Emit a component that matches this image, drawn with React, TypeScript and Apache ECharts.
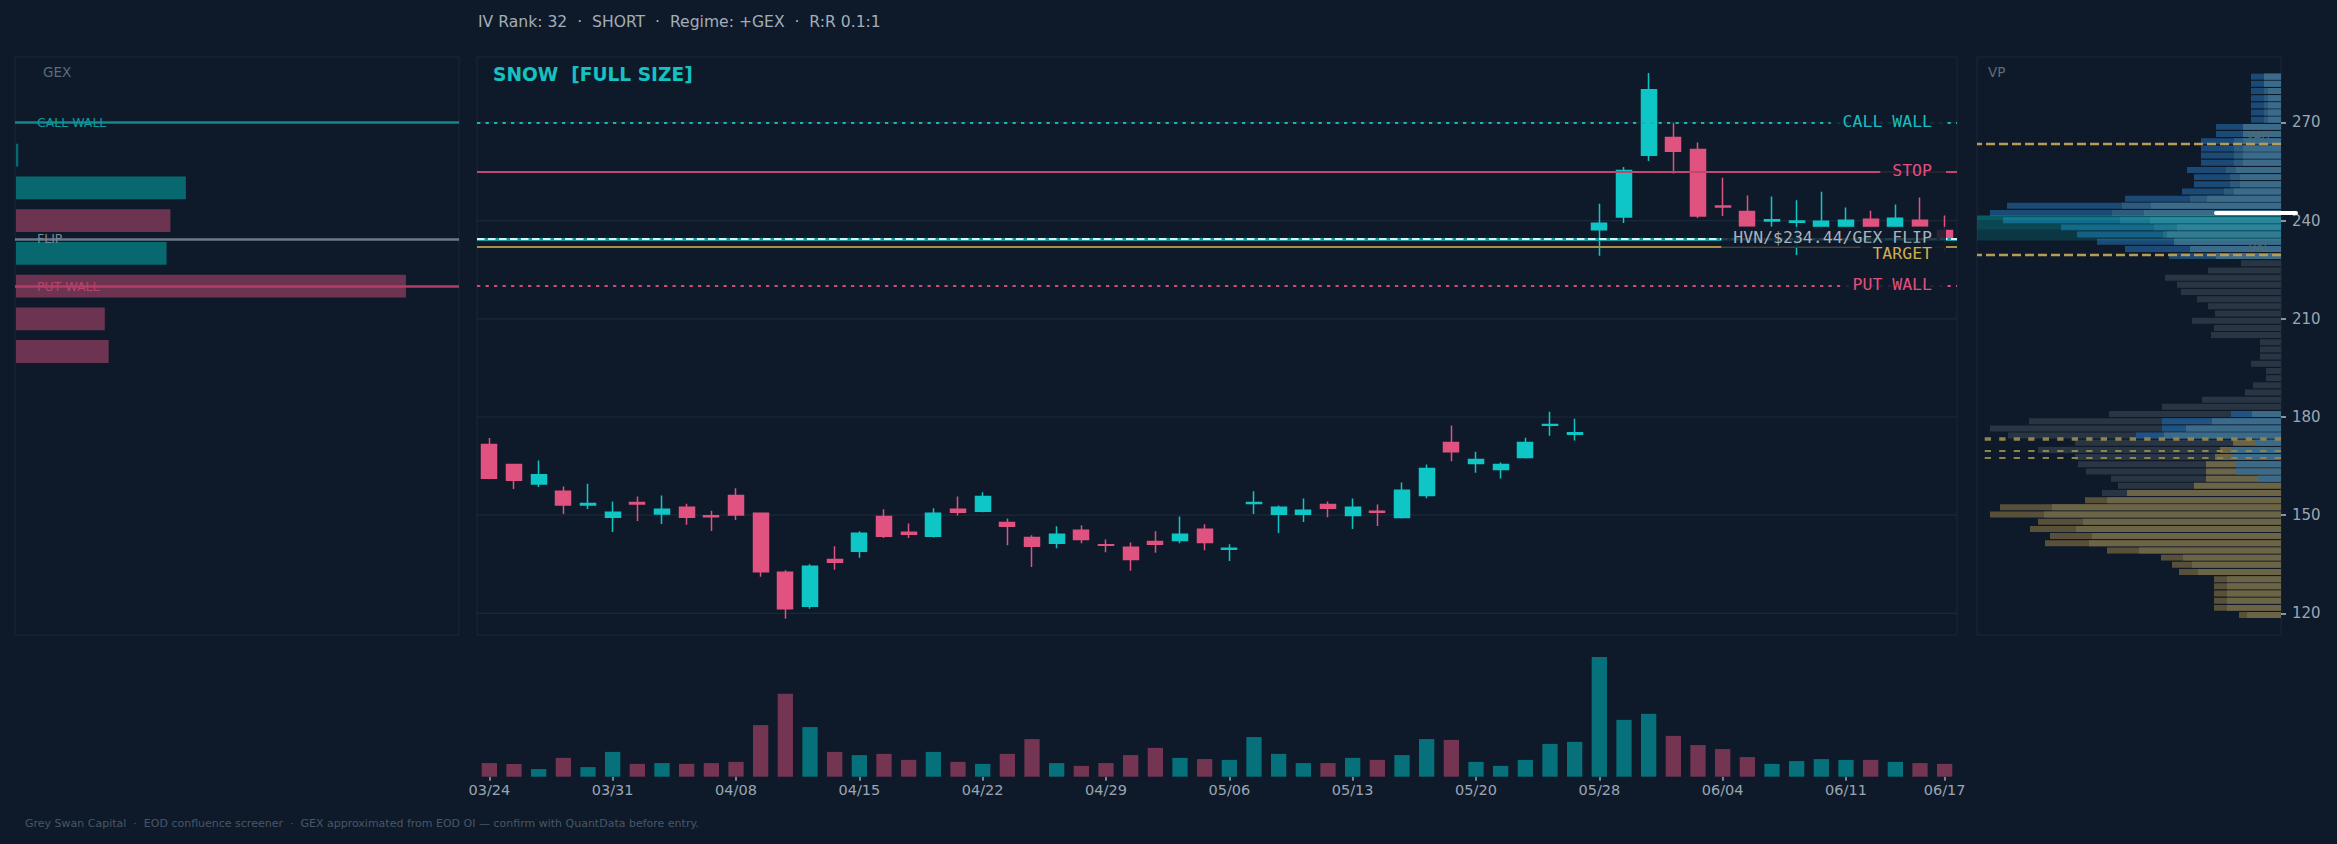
import React, { useEffect, useRef } from 'react';
import * as echarts from 'echarts';

const WIDTH = 2337;
const HEIGHT = 844;
const BG = '#0e1a29';
const FRAME = '#1b2737';
const GRID_C = '#1b2838';
const UP = '#0fc6c6';
const DOWN = '#e0527f';
const VOL_UP = '#06717a';
const VOL_DOWN = '#733552';

// ---------- data ----------
const dates = [
  '03/24', '03/25', '03/26', '03/27', '03/28', '03/31', '04/01', '04/02', '04/03', '04/04',
  '04/08', '04/09', '04/10', '04/11', '04/14', '04/15', '04/16', '04/17', '04/18', '04/21',
  '04/22', '04/23', '04/24', '04/25', '04/28', '04/29', '04/30', '05/01', '05/02', '05/05',
  '05/06', '05/07', '05/08', '05/09', '05/12', '05/13', '05/14', '05/15', '05/16', '05/19',
  '05/20', '05/21', '05/22', '05/23', '05/27', '05/28', '05/29', '05/30', '06/02', '06/03',
  '06/04', '06/05', '06/06', '06/09', '06/10', '06/11', '06/12', '06/13', '06/16', '06/17',
];
const opens = [
  171.6, 165.5, 159.5, 157.3, 153.1, 149.4, 153.9, 150.4, 152.4, 149.8,
  156.0, 150.6, 132.6, 122.2, 136.5, 139.0, 149.6, 144.8, 143.6, 151.8,
  151.2, 147.8, 143.2, 141.4, 145.4, 141.0, 140.2, 142.0, 142.3, 145.7,
  139.6, 153.6, 150.3, 150.3, 153.3, 149.9, 151.2, 149.3, 156.0, 172.2,
  165.8, 164.0, 167.6, 177.5, 174.7, 237.2, 241.1, 260.0, 265.4, 261.7,
  244.5, 242.8, 239.9, 239.5, 238.1, 238.1, 240.4, 238.1, 240.1, 237.0,
];
const closes = [
  161.3, 160.7, 162.4, 153.1, 153.6, 150.9, 153.4, 151.8, 149.4, 149.5,
  150.1, 132.7, 121.4, 134.4, 135.6, 144.5, 143.6, 144.2, 150.6, 150.9,
  155.7, 146.6, 140.5, 144.2, 142.6, 140.8, 136.5, 141.1, 144.2, 141.7,
  139.9, 153.9, 152.4, 151.5, 152.1, 152.4, 150.9, 157.6, 164.3, 169.4,
  167.0, 165.5, 172.2, 177.7, 175.2, 239.2, 255.3, 280.0, 261.2, 241.4,
  244.2, 238.4, 240.3, 239.9, 239.8, 240.1, 238.1, 240.7, 238.4, 234.8,
];
const lows = [
  161.0, 158.0, 158.6, 150.4, 151.9, 144.9, 148.2, 147.3, 147.1, 145.2,
  148.5, 131.2, 118.4, 121.4, 133.3, 137.0, 143.0, 143.0, 143.2, 149.9,
  150.9, 140.8, 134.2, 139.9, 141.4, 138.7, 133.0, 138.5, 141.4, 139.3,
  136.0, 150.4, 144.6, 147.9, 149.4, 145.8, 146.7, 149.0, 155.2, 166.5,
  163.0, 161.2, 167.3, 174.3, 172.8, 229.3, 239.3, 258.2, 254.4, 240.8,
  241.4, 238.1, 238.1, 229.5, 237.8, 237.8, 237.8, 237.8, 238.1, 230.6,
];
const highs = [
  173.6, 165.7, 166.7, 158.8, 159.6, 154.2, 155.7, 156.0, 153.5, 151.4,
  158.2, 150.8, 133.2, 135.0, 140.5, 145.1, 151.8, 147.5, 152.1, 155.7,
  157.0, 149.0, 143.9, 146.6, 146.9, 142.6, 141.7, 145.1, 149.6, 147.2,
  141.1, 157.3, 153.0, 155.1, 154.2, 155.1, 153.3, 160.0, 165.5, 177.4,
  169.4, 166.1, 173.7, 181.6, 179.5, 245.2, 256.4, 285.1, 269.9, 263.9,
  253.1, 247.7, 247.4, 246.2, 248.8, 244.0, 243.0, 244.9, 247.1, 241.6,
];
// volume, millions of shares
const volumes = [
  3.4, 3.2, 1.9, 4.7, 2.4, 6.2, 3.2, 3.4, 3.2, 3.4,
  3.7, 12.9, 20.7, 12.4, 6.2, 5.4, 5.7, 4.2, 6.2, 3.7,
  3.2, 5.7, 9.4, 3.4, 2.7, 3.4, 5.4, 7.2, 4.7, 4.4,
  4.2, 9.9, 5.7, 3.4, 3.4, 4.7, 4.2, 5.4, 9.4, 9.2,
  3.7, 2.7, 4.2, 8.2, 8.7, 29.9, 14.2, 15.7, 10.2, 7.9,
  6.9, 4.9, 3.2, 3.9, 4.4, 4.2, 4.2, 3.7, 3.4, 3.2,
];

// dealer gamma exposure by strike ($M)
const gexStrikes = [200, 210, 220, 230, 240, 250, 260];
const gexValues = [-24, -23, -101, 39, -40, 44, 0.6];

// key levels
const CALL_WALL = 270;
const PUT_WALL = 220;
const GEX_FLIP = 234.44;
const STOP = 255;
const TARGET = 232;
const VAH = 263.5;
const VAL = 229.6;
const POC = 242.3;
const priorProfileLevels = [173.5, 169.8, 167.7];
const hvnBands = [
  [233.9, 241.6, 0.17],
  [237.3, 241.6, 0.12],
  [240.2, 241.6, 0.15],
];

const priceTicks = [120, 150, 180, 210, 240, 270];

// volume profile, 76 bins from 118.4 to 285.1 (millions of shares)
const VP_LOW = 118.4;
const VP_HIGH = 285.1;
const vpTotal = [
  4.2, 6.7, 6.7, 6.7, 6.7, 6.7, 10.2, 10.9, 12.0, 17.4,
  23.6, 23.1, 25.1, 24.3, 29.1, 28.1, 19.6, 17.9, 16.3, 17.0,
  19.5, 20.3, 20.6, 24.3, 20.6, 27.3, 29.1, 25.2, 17.2, 11.9,
  7.9, 3.6, 2.8, 1.5, 1.5, 3.0, 2.1, 2.1, 2.1, 7.0,
  6.7, 8.9, 6.6, 7.3, 8.4, 10.0, 10.4, 11.6, 7.3, 4.0,
  11.2, 15.6, 18.4, 20.4, 22.0, 27.8, 29.1, 27.4, 15.6, 9.9,
  8.7, 8.7, 9.4, 8.0, 8.0, 8.0, 8.0, 6.5, 6.5, 3.0,
  3.0, 3.0, 3.0, 3.0, 3.0, 3.0,
];
const vpRecent = [
  3.4, 5.4, 5.4, 5.4, 5.4, 5.4, 8.3, 8.9, 9.8, 14.2,
  19.2, 18.9, 20.5, 19.8, 23.7, 22.9, 17.4, 15.4, 8.7, 7.5,
  7.5, 7.5, 6.6, 6.1, 4.8, 14.5, 11.9, 11.9, 5.0, 0,
  0, 0, 0, 0, 0, 0, 0, 0, 0, 0,
  0, 0, 0, 0, 0, 0, 0, 0, 0, 0,
  6.5, 9.1, 10.7, 11.8, 12.7, 16.1, 16.9, 15.9, 9.1, 5.7,
  5.1, 5.1, 5.5, 4.7, 4.7, 4.7, 4.7, 3.8, 3.8, 1.7,
  1.7, 1.7, 1.7, 1.7, 1.7, 1.7,
];
const vpBuy = [
  0, 0, 0, 0, 0, 0, 0, 0, 0, 0,
  0, 0, 0, 0, 0, 0, 0, 0, 0, 2.3,
  4.5, 4.5, 4.9, 4.9, 2.6, 11.7, 9.5, 6.9, 2.9, 0,
  0, 0, 0, 0, 0, 0, 0, 0, 0, 0,
  0, 0, 0, 0, 0, 0, 0, 0, 0, 0,
  6.5, 9.1, 10.7, 11.4, 10.4, 13.1, 13.7, 13.0, 7.4, 4.7,
  4.1, 4.1, 4.5, 3.8, 3.8, 3.8, 3.8, 3.8, 3.8, 1.3,
  1.3, 1.3, 1.3, 1.3, 1.7, 1.7,
];
const vpZone = [
  'low', 'low', 'low', 'low', 'low', 'low', 'low', 'low', 'low', 'low',
  'low', 'low', 'low', 'low', 'low', 'low', 'low', 'mix', 'mix', 'mix',
  'mix', 'mix', 'mix', 'mix', 'mix', 'gb', 'gb', 'gb', 'gb', 'gb',
  'gb', 'gb', 'gb', 'gb', 'gb', 'gb', 'gb', 'gb', 'gb', 'gb',
  'gb', 'gb', 'gb', 'gb', 'gb', 'gb', 'gb', 'gb', 'gb', 'gb',
  'up', 'up', 'up', 'up', 'up', 'up', 'up', 'up', 'up', 'up',
  'up', 'up', 'up', 'up', 'up', 'up', 'up', 'up', 'up', 'up',
  'up', 'up', 'up', 'up', 'up', 'up',
];

// ---------- layout / styling constants ----------
const Y_MIN = 113.4;
const Y_MAX = 290.0;
const GEX_X_MAX = 115;
const VP_X_MAX = 30.4;
const VOL_MAX = 32;
const ZONE_COLORS: Record<string, string[]> = {
  low: ['#585038', '#6b6446', '#6b6446'],
  mix: ['#2a3544', '#6b6446', '#3b6b88'],
  gb: ['#2a3544', '#1f5384', '#3b6b88'],
  up: ['#1b4a77', '#2c5b7d', '#3b6b88'],
};
const HEADER = 'IV Rank: 32\u00a0\u00a0·\u00a0\u00a0SHORT\u00a0\u00a0·\u00a0\u00a0Regime: +GEX\u00a0\u00a0·\u00a0\u00a0R:R 0.1:1';
const TITLE = 'SNOW\u00a0\u00a0[FULL SIZE]';
const FOOTER = 'Grey Swan Capital\u00a0\u00a0·\u00a0\u00a0EOD confluence screener\u00a0\u00a0·\u00a0\u00a0GEX approximated from EOD OI — confirm with QuantData before entry.';

const labelInterval = (index: number) => index % 5 === 0 || index === dates.length - 1;

function buildOption(): any {
  const vpStep = (VP_HIGH - VP_LOW) / vpTotal.length;
  return {
    backgroundColor: BG,
    animation: false,
    textStyle: { fontFamily: 'DejaVu Sans' },
    grid: [
      { left: 15, top: 57, width: 444, height: 578, show: true, borderColor: FRAME, borderWidth: 1, backgroundColor: 'transparent', outerBoundsMode: 'none' },
      { left: 477, top: 57, width: 1480, height: 578, show: true, borderColor: FRAME, borderWidth: 1, backgroundColor: 'transparent', outerBoundsMode: 'none' },
      { left: 477, top: 648.6, width: 1480, height: 128.1, outerBoundsMode: 'none' },
      { left: 1977, top: 57, width: 304, height: 578, show: true, borderColor: FRAME, borderWidth: 1, backgroundColor: 'transparent', outerBoundsMode: 'none' },
    ],
    xAxis: [
      { gridIndex: 0, type: 'value', min: 0, max: GEX_X_MAX, show: false },
      { gridIndex: 1, type: 'category', data: dates, boundaryGap: true, show: false },
      {
        gridIndex: 2, type: 'category', data: dates, boundaryGap: true,
        axisLine: { show: false },
        axisTick: { show: true, interval: labelInterval, alignWithLabel: true, length: 4, lineStyle: { color: '#9aa6b4', width: 1.5 } },
        axisLabel: { interval: labelInterval, color: '#9aa6b4', fontSize: 14.5, margin: 6, fontFamily: 'DejaVu Sans' },
        splitLine: { show: false },
      },
      { gridIndex: 3, type: 'value', min: 0, max: VP_X_MAX, inverse: true, show: false },
    ],
    yAxis: [
      { gridIndex: 0, type: 'value', min: Y_MIN, max: Y_MAX, show: false },
      { gridIndex: 1, type: 'value', min: Y_MIN, max: Y_MAX, show: false },
      { gridIndex: 2, type: 'value', min: 0, max: VOL_MAX, show: false },
      {
        gridIndex: 3, type: 'value', min: Y_MIN, max: Y_MAX, position: 'right',
        axisLine: { show: false },
        axisTick: { show: true, customValues: priceTicks, length: 5, lineStyle: { color: '#b4bec9', width: 1.5 } },
        axisLabel: { customValues: priceTicks, color: '#9aa6b4', fontSize: 15, margin: 11, fontFamily: 'DejaVu Sans' },
        splitLine: { show: false },
      },
    ],
    series: [
      // GEX bars
      {
        type: 'custom', name: 'GEX', xAxisIndex: 0, yAxisIndex: 0, silent: true, z: 2,
        data: gexStrikes.map((s, i) => [s, gexValues[i]]),
        renderItem: (params: any, api: any) => {
          const strike = api.value(0);
          const val = api.value(1);
          const yc = api.coord([0, strike])[1];
          const half = Math.abs(api.coord([0, strike + 5])[1] - yc) * 0.7;
          const x0 = api.coord([0, strike])[0];
          const x1 = api.coord([Math.abs(val), strike])[0];
          return {
            type: 'rect',
            shape: { x: x0 + 1, y: yc - half, width: Math.max(1.5, x1 - x0), height: half * 2 },
            style: { fill: val >= 0 ? '#07696f' : '#6c3450' },
          };
        },
        markLine: {
          symbol: 'none', silent: true, label: { show: false },
          data: [
            { yAxis: CALL_WALL, lineStyle: { color: '#0d8a8e', width: 2.5, type: 'solid' } },
            { yAxis: GEX_FLIP, lineStyle: { color: '#6d7988', width: 2.5, type: 'solid' } },
            { yAxis: PUT_WALL, lineStyle: { color: '#b43d68', width: 2.5, type: 'solid' } },
          ],
        },
      },
      // main grid lines
      {
        type: 'custom', name: 'grid', xAxisIndex: 1, yAxisIndex: 1, silent: true, z: 1,
        data: priceTicks.map((v) => [0, v]),
        renderItem: (params: any, api: any) => {
          const cs = params.coordSys;
          const y = api.coord([0, api.value(1)])[1];
          return { type: 'line', shape: { x1: cs.x, y1: y, x2: cs.x + cs.width, y2: y }, style: { stroke: GRID_C, lineWidth: 1.2 } };
        },
      },
      // candles
      {
        type: 'candlestick', name: 'SNOW', xAxisIndex: 1, yAxisIndex: 1, z: 2,
        barWidth: 15.3,
        data: dates.map((_, i) => [opens[i], closes[i], lows[i], highs[i]]),
        itemStyle: { color: UP, color0: DOWN, borderColor: UP, borderColor0: DOWN, borderWidth: 1.5 },
        markLine: {
          symbol: 'none', silent: true, label: { show: false },
          data: [
            { yAxis: CALL_WALL, lineStyle: { color: '#17b4b6', width: 2, type: [3.3, 5.2] } },
            { yAxis: STOP, lineStyle: { color: '#c4466f', width: 2.2, type: 'solid' } },
            { yAxis: GEX_FLIP, lineStyle: { color: '#149aa0', width: 3, type: 'solid' } },
            { yAxis: GEX_FLIP, lineStyle: { color: '#d6f1f2', width: 2.2, type: [7.5, 3.5] } },
            { yAxis: TARGET, lineStyle: { color: '#a88f48', width: 2.2, type: 'solid' } },
            { yAxis: PUT_WALL, lineStyle: { color: '#cf4a77', width: 2, type: [3.3, 5.2] } },
          ],
        },
      },
      // volume
      {
        type: 'bar', name: 'Volume', xAxisIndex: 2, yAxisIndex: 2, barWidth: 15.3, silent: true,
        data: volumes.map((v, i) => ({ value: v, itemStyle: { color: closes[i] >= opens[i] ? VOL_UP : VOL_DOWN } })),
      },
      // volume profile
      {
        type: 'custom', name: 'VP', xAxisIndex: 3, yAxisIndex: 3, silent: true, z: 2,
        data: vpTotal.map((v, k) => [k, v, vpRecent[k], vpBuy[k]]),
        renderItem: (params: any, api: any) => {
          const k = api.value(0);
          const lo = VP_LOW + k * vpStep;
          const hi = lo + vpStep;
          const yTop = api.coord([0, hi])[1];
          const yBot = api.coord([0, lo])[1];
          const xR = api.coord([0, hi])[0];
          const cols = ZONE_COLORS[vpZone[k]];
          const children: any[] = [];
          [api.value(1), api.value(2), api.value(3)].forEach((v: number, i: number) => {
            if (v > 0) {
              const xL = api.coord([v, hi])[0];
              children.push({
                type: 'rect',
                shape: { x: xL, y: yTop + 0.6, width: xR - xL, height: Math.max(0.5, yBot - yTop - 1.2) },
                style: { fill: cols[i] },
              });
            }
          });
          return { type: 'group', children };
        },
        markLine: {
          symbol: 'none', silent: true, label: { show: false },
          data: [
            { yAxis: VAH, lineStyle: { color: '#b89c55', width: 2.3, type: [9, 4] } },
            { yAxis: VAL, lineStyle: { color: '#b89c55', width: 2.3, type: [9, 4] } },
            { yAxis: priorProfileLevels[0], lineStyle: { color: '#8f8250', width: 3.7, type: [6.3, 8.2] } },
            { yAxis: priorProfileLevels[1], lineStyle: { color: '#8f8250', width: 2, type: [6.3, 8.2] } },
            { yAxis: priorProfileLevels[2], lineStyle: { color: '#8f8250', width: 2, type: [6.3, 8.2] } },
          ],
        },
      },
      // HVN shading over profile
      {
        type: 'custom', name: 'HVN', xAxisIndex: 3, yAxisIndex: 3, silent: true, z: 3,
        data: hvnBands,
        renderItem: (params: any, api: any) => {
          const cs = params.coordSys;
          const y1 = api.coord([0, api.value(1)])[1];
          const y0 = api.coord([0, api.value(0)])[1];
          return {
            type: 'rect',
            shape: { x: cs.x, y: y1, width: cs.width, height: y0 - y1 },
            style: { fill: 'rgb(0,200,200)', opacity: api.value(2) },
          };
        },
      },
    ],
  };
}

function txt(x: number, y: number, text: string, color: string, size: number, extra: any = {}) {
  return {
    type: 'text', x, y, z: 100, silent: true,
    style: {
      text, fill: color, fontSize: size, fontFamily: 'DejaVu Sans',
      textAlign: 'left', align: 'left', textVerticalAlign: 'middle', verticalAlign: 'middle',
      ...extra,
    },
  };
}

function buildGraphics(chart: any) {
  const py = (axis: number, v: number) => chart.convertToPixel({ yAxisIndex: axis }, v) as number;
  const g: any[] = [];
  g.push(txt(478, 21.7, HEADER, '#a3adba', 15.6));
  g.push(txt(493, 74.5, TITLE, '#16c1c1', 18.6, { fontWeight: 'bold' }));
  g.push(txt(43, 72, 'GEX', '#5f6b7a', 13.5));
  g.push(txt(1988, 72, 'VP', '#5f6b7a', 13.5));

  // GEX panel level labels
  g.push(txt(37, py(0, CALL_WALL), 'CALL WALL', '#0f9a9c', 12.5));
  g.push(txt(37, py(0, GEX_FLIP), 'FLIP', '#7d8896', 12.5));
  g.push(txt(37, py(0, PUT_WALL), 'PUT WALL', '#b8436c', 12.5));

  // main level labels
  const labels = [
    { text: 'CALL WALL', v: CALL_WALL, color: '#19bdbf', dy: -1 },
    { text: 'STOP', v: STOP, color: '#e0507f', dy: -1.5 },
    { text: 'HVN/$234.44/GEX FLIP', v: GEX_FLIP, color: '#a9b3bf', dy: -1.5 },
    { text: 'TARGET', v: TARGET, color: '#d2ad4c', dy: 6.5 },
    { text: 'PUT WALL', v: PUT_WALL, color: '#e0507f', dy: -1.3 },
  ];
  labels.forEach((l) => {
    g.push(txt(1946, py(1, l.v) + l.dy, l.text, l.color, 16.5, {
      fontFamily: 'DejaVu Sans Mono', textAlign: 'right', align: 'right',
      backgroundColor: 'rgba(14,26,41,0.85)', padding: [2, 14, 2, 12],
    }));
  });

  // VP labels
  g.push(txt(2270, py(3, VAH) - 8, 'VAH', '#53696c', 11.5, { textAlign: 'right', align: 'right' }));
  g.push(txt(2270, py(3, VAL) - 7, 'VAL', '#53696c', 11.5, { textAlign: 'right', align: 'right' }));
  const pocY = py(3, POC);
  g.push({
    type: 'line', z: 101, silent: true,
    shape: { x1: 2216, y1: pocY, x2: 2296, y2: pocY },
    style: { stroke: '#ffffff', lineWidth: 4, lineCap: 'round' },
  });

  g.push(txt(25, 823, FOOTER, '#4a5668', 11));
  return g;
}

export default function App() {
  const ref = useRef<HTMLDivElement>(null);
  useEffect(() => {
    document.body.style.margin = '0';
    document.body.style.background = BG;
    const chart = echarts.init(ref.current as HTMLDivElement, null, { renderer: 'svg', width: WIDTH, height: HEIGHT });
    chart.setOption(buildOption());
    chart.setOption({ graphic: buildGraphics(chart) });
    return () => chart.dispose();
  }, []);
  return <div ref={ref} style={{ width: WIDTH, height: HEIGHT }} />;
}
